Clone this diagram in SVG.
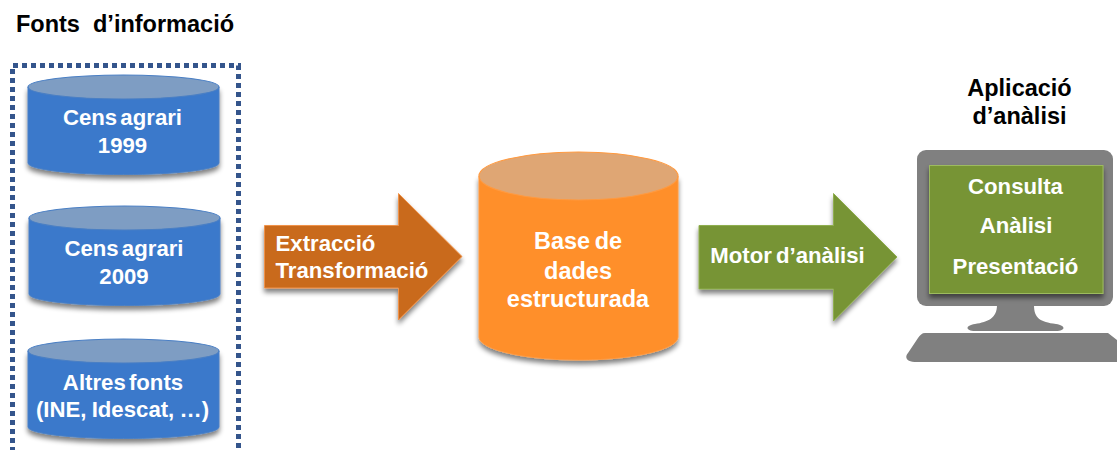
<svg xmlns="http://www.w3.org/2000/svg" width="1117" height="450" viewBox="0 0 1117 450">
<style>
text{font-family:"Liberation Sans",Arial,sans-serif;font-weight:700;font-size:22.200px;text-anchor:middle}
.w{fill:#fff}.k{fill:#000}
.big{font-size:23.500px}
.blue{fill:#3a79cb;stroke:#4a7fc4;stroke-width:1}
.bluetop{fill:#7e9dc3;stroke:#4a7fc4;stroke-width:1.2}
.or{fill:#ff8f2b;stroke:#ff9a40;stroke-width:1}
.ortop{fill:#dfa674;stroke:#ff9a40;stroke-width:1.2}
.sh{filter:url(#s)}
</style>
<defs>
<filter id="s" x="-10%" y="-10%" width="120%" height="125%"><feGaussianBlur in="SourceAlpha" stdDeviation="2.5"/><feOffset dy="4"/><feComponentTransfer><feFuncA type="linear" slope=".5"/></feComponentTransfer><feMerge><feMergeNode/><feMergeNode in="SourceGraphic"/></feMerge></filter>
</defs>
<rect width="1117" height="450" fill="#fff"/>
<g id="title-fonts"><text class="k big" x="125" y="32" xml:space="preserve">Fonts  d’informació</text></g>
<g id="fonts-frame"><path d="M12.500 470V65.500H238.500V470" fill="none" stroke="#34558c" stroke-width="5" stroke-dasharray="5 4"/></g>
<g id="cens-1999">
<path class="blue sh" d="M28 87V163C28 169.500 70.500 174.500 123.500 174.500S219 169.500 219 163V87Z"/>
<ellipse class="bluetop" cx="123.500" cy="87" rx="95.500" ry="12"/>
<text class="w" x="122.500" y="125" word-spacing="-3">Cens agrari</text><text class="w" x="122.500" y="152.500">1999</text>
</g>
<g id="cens-2009">
<path class="blue sh" d="M29 218V294C29 300.500 71.500 305.500 124.500 305.500S220 300.500 220 294V218Z"/>
<ellipse class="bluetop" cx="124.500" cy="218" rx="95.500" ry="12"/>
<text class="w" x="124" y="256" word-spacing="-3">Cens agrari</text><text class="w" x="124" y="284">2009</text>
</g>
<g id="altres-fonts">
<path class="blue sh" d="M28 351V427C28 433.500 70.500 438.500 123.500 438.500S219 433.500 219 427V351Z"/>
<ellipse class="bluetop" cx="123.500" cy="351" rx="95.500" ry="12"/>
<text class="w" x="123" y="390" word-spacing="-3">Altres fonts</text><text class="w" x="122.500" y="417" word-spacing="-1">(INE, Idescat, …)</text>
</g>
<g id="connectors">
<g id="extraccio">
<path class="sh" d="M264.500 225.500H398.500V193.500L462 256.500L398.500 320V288H264.500Z" fill="#c96a1b" stroke="#f0924a" stroke-width="1"/>
<text class="w" x="275.500" y="250.500" style="text-anchor:start">Extracció</text><text class="w" x="275.500" y="277.500" style="text-anchor:start">Transformació</text>
</g>
<g id="motor">
<path class="sh" d="M699 225.500H833.500V193.500L897 257L833.500 321V289H699Z" fill="#779435" stroke="#8fae4f" stroke-width="1"/>
<text class="w" x="787.500" y="263" word-spacing="-2">Motor d’anàlisi</text>
</g>
</g>
<g id="base-dades">
<path class="or sh" d="M479 176V337C479 349.500 523.500 360 578.500 360S678 349.500 678 337V176Z"/>
<ellipse class="ortop" cx="578.500" cy="176" rx="99.500" ry="24"/>
<text class="w big" x="578" y="249" word-spacing="-2">Base de</text><text class="w big" x="578" y="278.500">dades</text><text class="w big" x="578" y="306.500">estructurada</text>
</g>
<g id="title-app"><text class="k big" x="1019.500" y="96">Aplicació</text><text class="k big" x="1019.500" y="123.500">d’anàlisi</text></g>
<g id="monitor">
<path d="M997 305C997 318 988 322 975 324C965 325.500 965 331 975 331H1056C1066 331 1066 325.500 1056 324C1040 322 1034 318 1034 305Z" fill="#808080"/>
<path d="M925 333H1108L1117 340V362H917C907 362 904 358 908 353L918 338C920 335 922 333 925 333Z" fill="#808080"/>
<rect x="917" y="150" width="196" height="156" rx="9" fill="#808080"/>
<rect class="sh" x="929.500" y="165.500" width="173.500" height="128" fill="#779435" stroke="#9dbb5f" stroke-width="1"/>
<text class="w" x="1015.500" y="194">Consulta</text><text class="w" x="1016" y="233">Anàlisi</text><text class="w" x="1015.500" y="274">Presentació</text>
</g>
</svg>
